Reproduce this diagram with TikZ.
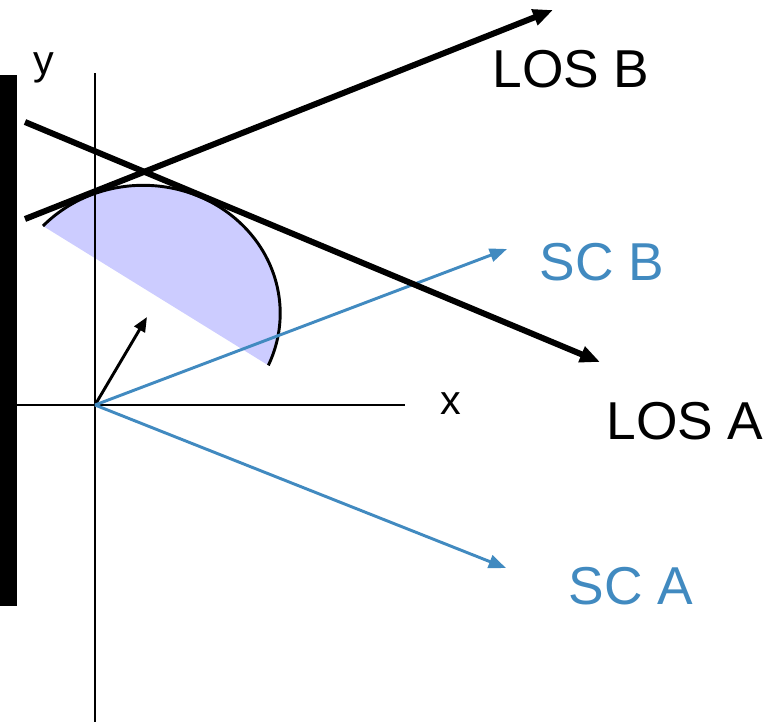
\documentclass[tikz,border=0pt]{standalone}
\usepackage{fontspec}
\setmainfont{Liberation Sans}
\usetikzlibrary{arrows.meta}
\definecolor{ScBlue}{HTML}{418AC0}
\definecolor{Lavender}{HTML}{CCCCFF}
\tikzset{
  axis/.style={line width=2.2pt, draw=black},
  los/.style={-{Triangle[length=15pt,width=12pt]}, line width=4.5pt, draw=black},
  scray/.style={-{Triangle[length=13pt,width=10pt]}, line width=2.2pt, draw=ScBlue},
  normal/.style={-{Triangle[length=11pt,width=9pt]}, line width=2.2pt, draw=black},
  bigtag/.style={font=\fontsize{40}{48}\selectfont, inner sep=0pt},
  axtag/.style={font=\fontsize{31}{37}\selectfont, inner sep=0pt}
}

\begin{document}
\begin{tikzpicture}[x=0.75pt,y=-0.75pt]
    \useasboundingbox (0,0) rectangle (766,722);
    % reference points
    \coordinate (origin) at (95,405);
    \coordinate (ytop) at (95,73);
    \coordinate (ybot) at (95,722);
    \coordinate (xleft) at (17,405);
    \coordinate (xright) at (405,405);
    \coordinate (losAfrom) at (25,122);
    \coordinate (losAto) at (600,362);
    \coordinate (losBfrom) at (25,219);
    \coordinate (losBto) at (553,10);
    \coordinate (scAto) at (506,568);
    \coordinate (scBto) at (507,249);
    \coordinate (normaltip) at (147,317);
    \coordinate (capstart) at (43,226);
    % shaded cap
    \fill[Lavender] (capstart) arc[start angle=-137,end angle=24,x radius=137,y radius=128] -- cycle;
    % wall
    \fill[black] (0,75) rectangle (17,606);
    % axes
    \draw[axis] (ytop)--(ybot);
    \draw[axis] (xleft)--(xright);
    \draw[line width=2.2pt] (capstart) arc[start angle=-137,end angle=24,x radius=137,y radius=128];
    \draw[normal] (origin)--(normaltip);
    \draw[scray] (origin)--(scBto);
    \draw[scray] (origin)--(scAto);
    \draw[los] (losAfrom)--(losAto);
    \draw[los] (losBfrom)--(losBto);
    % labels
    \node[axtag] (ylabel) at (44,68) {y};
    \node[axtag] (xlabel) at (451,404) {x};
    \node[bigtag] (losBlabel) at (571,69) {LOS B};
    \node[bigtag] (losAlabel) at (685,421) {LOS A};
    \node[bigtag,text=ScBlue] (scBlabel) at (602,262) {SC B};
    \node[bigtag,text=ScBlue] (scAlabel) at (631,586) {SC A};
  \end{tikzpicture}
\end{document}
